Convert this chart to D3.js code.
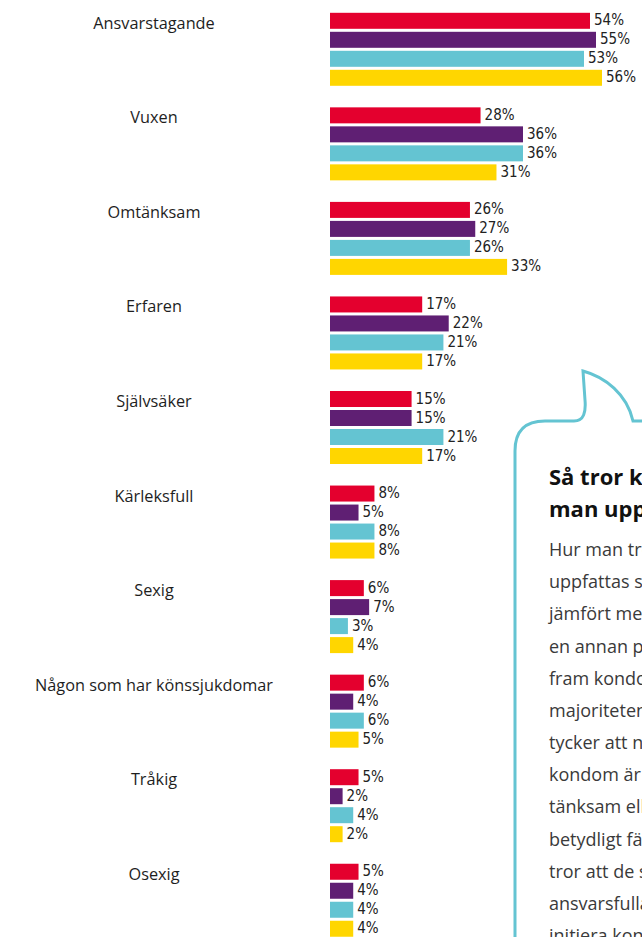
<html>
<head>
    <style>
        body {
            margin: 0;
            background-color: white;
            overflow: hidden;
        }
        svg {
            display: block;
        }
        .cat-label {
            font-family: "Open Sans", "Noto Sans", sans-serif;
            font-size: 16.3px;
            fill: #1e1e1e;
        }
        .val-label {
            font-family: "Liberation Sans Narrow", "DejaVu Sans Condensed", sans-serif;
            font-size: 15px;
            fill: #222;
        }
        .box-title {
            font-family: "Open Sans", "Noto Sans", sans-serif;
            font-size: 22px;
            font-weight: bold;
            fill: #111;
        }
        .box-text {
            font-family: "Open Sans", "Noto Sans", sans-serif;
            font-size: 18px;
            fill: #3a3a3a;
        }
    </style>
    <script src="https://cdn.jsdelivr.net/npm/d3@7"></script>
</head>
<body>
<svg id="chart"></svg>
<script>
// categories, top to bottom
let categories = ["Ansvarstagande", "Vuxen", "Omtänksam", "Erfaren", "Självsäker",
    "Kärleksfull", "Sexig", "Någon som har könssjukdomar", "Tråkig", "Osexig"]

// four series, one value per category (percent)
let series = ["red", "purple", "cyan", "yellow"]
let redValues    = [54, 28, 26, 17, 15, 8, 6, 6, 5, 5]
let purpleValues = [55, 36, 27, 22, 15, 5, 7, 4, 2, 4]
let cyanValues   = [53, 36, 26, 21, 21, 8, 3, 6, 4, 4]
let yellowValues = [56, 31, 33, 17, 17, 8, 4, 5, 2, 4]

let colors = {red: "#e4002e", purple: "#5f1f73", cyan: "#64c4d2", yellow: "#ffd600"}

// text in the speech bubble
let boxTitle = ["Så tror killar och tjejer att", "man uppfattas"]
let boxLines = [
    "Hur man tror att man själv",
    "uppfattas som person om man",
    "jämfört med hur man ser på",
    "en annan person som tar",
    "fram kondom skiljer sig. Den",
    "majoriteten av de unga",
    "tycker att någon som tar fram",
    "kondom är ansvarstagande, om-",
    "tänksam eller vuxen, men",
    "betydligt färre av dem",
    "tror att de själva uppfattas som",
    "ansvarsfulla om de själva",
    "initiera kondomanvändning."
]

let width = 642
let height = 937
let svg = d3.select("#chart")
    .attr("width", width)
    .attr("height", height)

let rows = categories.map((c, i) => ({
    category: c,
    values: [redValues[i], purpleValues[i], cyanValues[i], yellowValues[i]]
}))

// group position
let y0 = d3.scaleBand()
    .domain(categories)
    .range([12.8, 12.8 + 94.55 * categories.length])
// bar position inside a group
let y1 = d3.scaleBand()
    .domain(series)
    .range([0, 73])
    .paddingInner(3 / 19)

// bar length (the top group is drawn compressed in the original)
let barStart = 330
let x = d3.scaleLinear()
    .domain([0, 36, 53, 56])
    .range([2, 193, 254, 272])

let groups = svg.selectAll("g.group")
    .data(rows)
    .enter()
    .append("g")
    .attr("class", "group")
    .attr("transform", d => "translate(0," + y0(d.category) + ")")

groups.append("text")
    .attr("class", "cat-label")
    .attr("x", 154)
    .attr("y", y1.bandwidth())
    .attr("text-anchor", "middle")
    .text(d => d.category)

let bars = groups.selectAll("g.bar")
    .data(d => d.values.map((v, j) => ({key: series[j], value: v})))
    .enter()
    .append("g")
    .attr("class", "bar")

bars.append("rect")
    .attr("x", barStart)
    .attr("y", d => y1(d.key))
    .attr("width", d => x(d.value))
    .attr("height", y1.bandwidth())
    .attr("fill", d => colors[d.key])

bars.append("text")
    .attr("class", "val-label")
    .attr("x", d => barStart + x(d.value) + 4)
    .attr("y", d => y1(d.key) + 12.5)
    .text(d => d.value + "%")

//speech bubble on the right
let bubble = svg.append("g")
bubble.append("path")
    .attr("d", "M515,960 L515,451 Q515,421 545,421 L574,421 C584,421 586,412 585,400 L583,371 "
        + "C605,377 627,394 633,421 L660,421")
    .attr("fill", "white")
    .attr("stroke", "#64c4d2")
    .attr("stroke-width", 3)

bubble.selectAll("text.box-title")
    .data(boxTitle)
    .enter()
    .append("text")
    .attr("class", "box-title")
    .attr("x", 549)
    .attr("y", (d, i) => 485 + i * 32)
    .text(d => d)

bubble.selectAll("text.box-text")
    .data(boxLines)
    .enter()
    .append("text")
    .attr("class", "box-text")
    .attr("x", 549)
    .attr("y", (d, i) => 556 + i * 32.17)
    .text(d => d)
</script>
</body>
</html>
